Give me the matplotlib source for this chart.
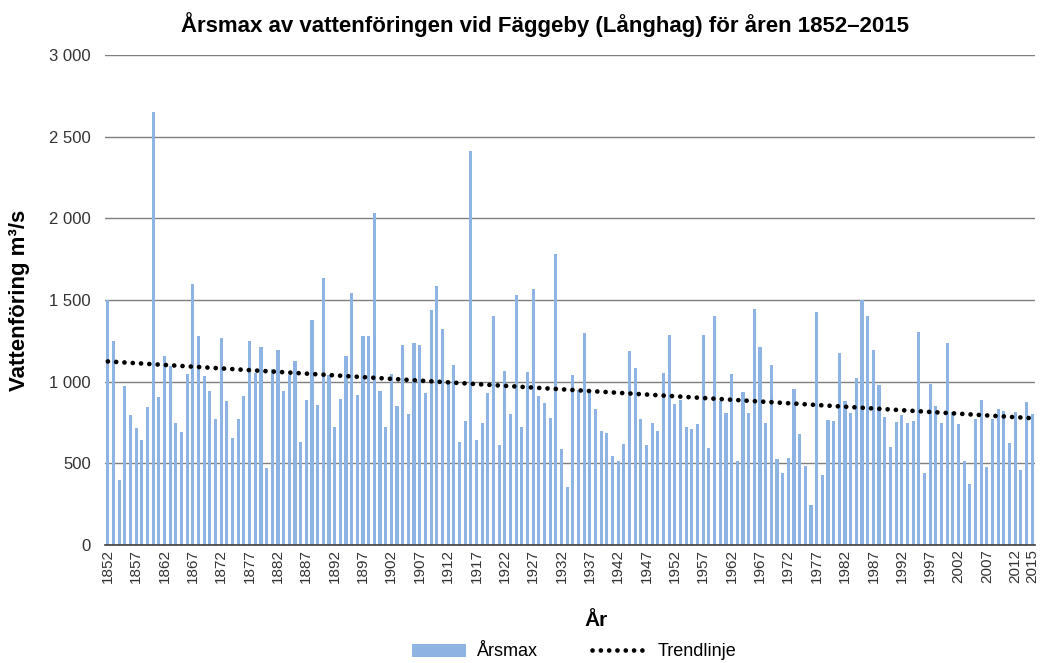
# Årsmax av vattenföringen vid Fäggeby (Långhag), 1852-2015
import numpy as np
import matplotlib.pyplot as plt
from matplotlib.ticker import FuncFormatter

plt.rcParams['font.family'] = ['Liberation Sans', 'DejaVu Sans']

# Data
ar = list(range(1852, 2016))
arsmax = [
    1500, 1250, 400, 975, 795, 715, 645, 845, 2650, 905,
    1160, 1095, 745, 690, 1050, 1600, 1280, 1035, 945, 770,
    1270, 880, 655, 770, 910, 1250, 1055, 1210, 470, 1075,
    1195, 945, 1040, 1125, 630, 885, 1380, 855, 1635, 1040,
    720, 895, 1160, 1540, 920, 1280, 1280, 2030, 945, 720,
    1050, 850, 1225, 800, 1235, 1225, 930, 1440, 1585, 1320,
    995, 1100, 630, 760, 2415, 645, 750, 930, 1405, 610,
    1065, 800, 1530, 720, 1057, 1565, 915, 870, 780, 1780,
    590, 357, 1040, 950, 1300, 940, 830, 700, 685, 545,
    515, 620, 1185, 1085, 770, 612, 745, 700, 1055, 1285,
    865, 885, 720, 710, 740, 1285, 592, 1405, 880, 810,
    1045, 515, 935, 810, 1445, 1215, 750, 1105, 528, 440,
    535, 957, 680, 485, 245, 1425, 427, 765, 760, 1175,
    880, 810, 1025, 1500, 1405, 1195, 980, 785, 602, 755,
    795, 747, 757, 1305, 440, 985, 853, 745, 1235, 815,
    740, 512, 373, 770, 888, 478, 770, 830, 820, 627,
    815, 460, 875, 800,
]
yticks = [0, 500, 1000, 1500, 2000, 2500, 3000]

x = np.arange(len(ar))
k, m = np.polyfit(x, arsmax, 1)
trend = k * x + m

fig = plt.figure(figsize=(10.4, 6.63), dpi=100)
ax = fig.add_axes([105 / 1040, 1 - 545 / 663, 930 / 1040, 490 / 663])

staplar = ax.bar(x, arsmax, width=0.55, color='#8db4e2', zorder=2, label='Årsmax')
linje, = ax.plot(x, trend, color='black', lw=3.4, linestyle=(0, (0.01, 1.75)),
                 dash_capstyle='round', zorder=3, label='Trendlinje')

ax.set_xlim(-0.5, len(ar) - 0.5)
ax.set_ylim(0, 3000)
ax.set_yticks(yticks)
ax.yaxis.set_major_formatter(FuncFormatter(lambda v, p: f'{v:,.0f}'.replace(',', ' ')))
ax.grid(axis='y', color='#7f7f7f', lw=1, zorder=0)
ax.set_axisbelow(True)

tick_pos = list(range(0, len(ar), 5)) + [len(ar) - 1]
ax.set_xticks(tick_pos)
ax.set_xticklabels([str(ar[i]) for i in tick_pos], rotation=90, fontsize=11, color='#333333')
ax.tick_params(axis='y', labelsize=12, colors='#333333', length=0, pad=10)
ax.tick_params(axis='x', length=0, pad=3)

for s in ['top', 'right', 'left']:
    ax.spines[s].set_visible(False)
ax.spines['bottom'].set_color('#404040')
ax.spines['bottom'].set_linewidth(1.2)

fig.text(545 / 1040, 1 - 25 / 663, 'Årsmax av vattenföringen vid Fäggeby (Långhag) för åren 1852–2015',
         ha='center', va='center', fontsize=16, fontweight='bold')
fig.text(20 / 1040, 1 - 300 / 663, 'Vattenföring m³/s', rotation=90, ha='center', va='center',
         fontsize=16, fontweight='bold')
fig.text(596 / 1040, 1 - 620 / 663, 'År', ha='center', va='center', fontsize=15, fontweight='bold')

fig.legend([staplar, linje], ['Årsmax', 'Trendlinje'], loc='center',
           bbox_to_anchor=(574 / 1040, 1 - 652 / 663), ncol=2, frameon=False,
           fontsize=13, handlelength=3.0, columnspacing=3.0, handletextpad=0.6)

fig.savefig('out.png', dpi=100)
